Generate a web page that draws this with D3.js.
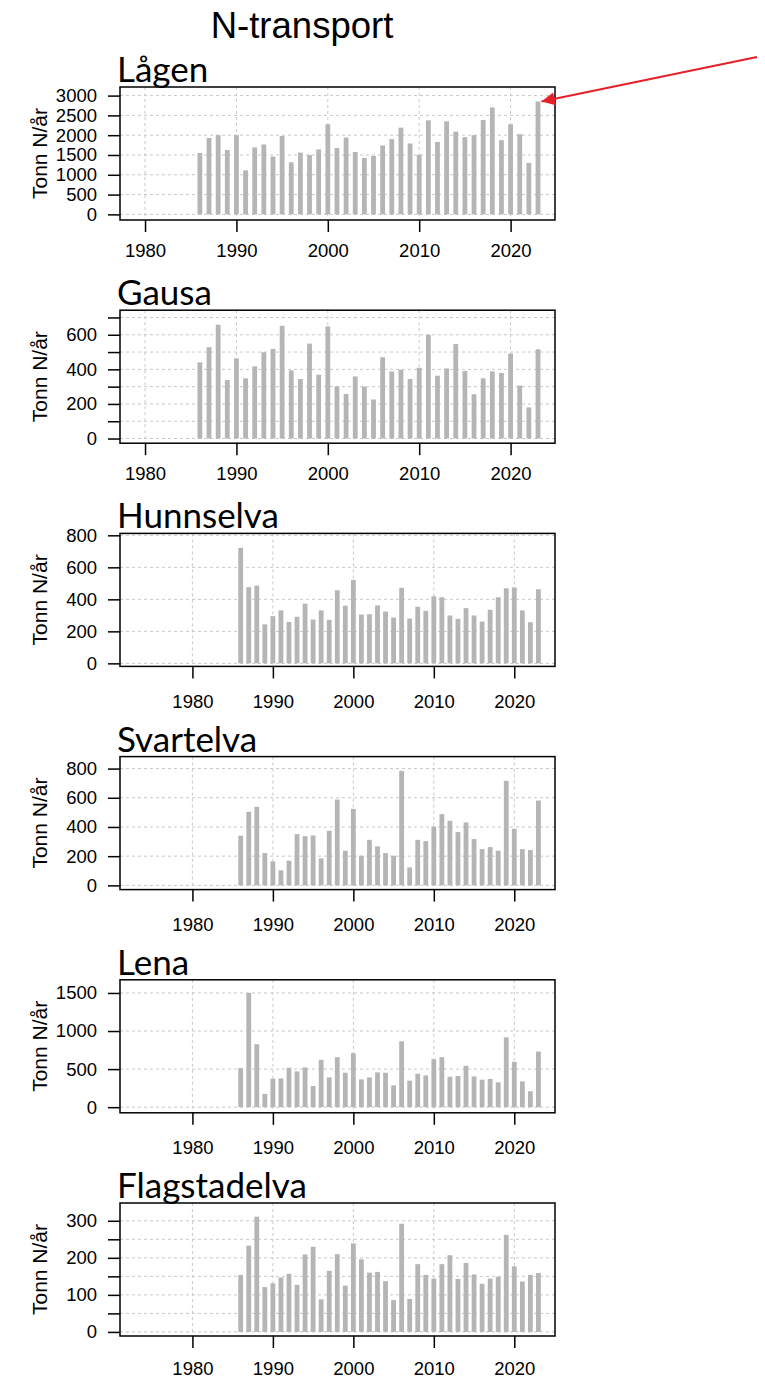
<!DOCTYPE html>
<html>
<head>
<meta charset="utf-8">
<script src="https://cdn.jsdelivr.net/npm/d3@7"></script>
<style>
  body { margin: 0; background: #fff; }
  svg { display: block; }
</style>
</head>
<body>
<div id="chart"></div>
<script>
// years shared by every river
const years = [1986, 1987, 1988, 1989, 1990, 1991, 1992, 1993, 1994, 1995,
  1996, 1997, 1998, 1999, 2000, 2001, 2002, 2003, 2004, 2005,
  2006, 2007, 2008, 2009, 2010, 2011, 2012, 2013, 2014, 2015,
  2016, 2017, 2018, 2019, 2020, 2021, 2022, 2023];

const xTicks = [1980, 1990, 2000, 2010, 2020];

// N-transport, tonn N/år
const lagen = [1550, 1930, 2000, 1625, 2000, 1110, 1690, 1765, 1460, 1980,
  1315, 1560, 1500, 1640, 2275, 1675, 1940, 1575, 1425, 1475,
  1740, 1900, 2190, 1790, 1500, 2375, 1830, 2350, 2090, 1950,
  2000, 2385, 2700, 1875, 2275, 2025, 1300, 2850];
const gausa = [440, 528, 658, 338, 463, 348, 417, 499, 518, 652,
  394, 344, 549, 369, 648, 302, 258, 359, 300, 226,
  470, 388, 398, 344, 409, 600, 363, 405, 547, 390,
  256, 348, 388, 379, 491, 306, 180, 516];
const hunnselva = [722, 476, 486, 244, 295, 331, 259, 291, 373, 274,
  331, 272, 457, 360, 522, 305, 307, 362, 324, 286,
  472, 280, 354, 328, 419, 413, 299, 278, 345, 299,
  261, 335, 413, 469, 474, 331, 257, 463];
const svartelva = [340, 504, 538, 221, 164, 103, 169, 351, 337, 342,
  185, 374, 588, 237, 524, 203, 312, 267, 221, 203,
  784, 123, 312, 303, 403, 488, 442, 365, 431, 317,
  248, 262, 237, 716, 387, 248, 242, 581];
const lena = [513, 1500, 826, 174, 374, 378, 517, 470, 522, 278,
  622, 391, 657, 452, 709, 365, 391, 457, 452, 287,
  865, 348, 439, 417, 630, 657, 400, 409, 543, 404,
  361, 370, 326, 917, 596, 339, 209, 730];
const flagstadelva = [154, 233, 311, 121, 131, 147, 157, 127, 209, 230,
  88, 165, 210, 125, 239, 196, 160, 162, 137, 86,
  292, 89, 183, 154, 144, 183, 207, 143, 186, 155,
  130, 144, 149, 262, 177, 136, 154, 159];

// y ticks and the labels R kept on each axis
const lagenTicks = [0, 500, 1000, 1500, 2000, 2500, 3000];
const lagenLabels = [0, 500, 1000, 1500, 2000, 2500, 3000];
const gausaTicks = [0, 100, 200, 300, 400, 500, 600, 700];
const gausaLabels = [0, 200, 400, 600];
const hunnTicks = [0, 200, 400, 600, 800];
const hunnLabels = [0, 200, 400, 600, 800];
const svartTicks = [0, 200, 400, 600, 800];
const svartLabels = [0, 200, 400, 600, 800];
const lenaTicks = [0, 500, 1000, 1500];
const lenaLabels = [0, 500, 1000, 1500];
const flagTicks = [0, 50, 100, 150, 200, 250, 300];
const flagLabels = [0, 100, 200, 300];

const panels = [
  { name: 'Lågen', values: lagen, ticks: lagenTicks, labels: lagenLabels, ydom: [-142, 3217], xdom: [1977.26, 2024.86], lab: 12 },
  { name: 'Gausa', values: gausa, ticks: gausaTicks, labels: gausaLabels, ydom: [-27, 742], xdom: [1977.26, 2024.86], lab: 12 },
  { name: 'Hunnselva', values: hunnselva, ticks: hunnTicks, labels: hunnLabels, ydom: [-19, 812], xdom: [1971, 2025.06], lab: 16 },
  { name: 'Svartelva', values: svartelva, ticks: svartTicks, labels: svartLabels, ydom: [-29, 882], xdom: [1971, 2025.06], lab: 16 },
  { name: 'Lena', values: lena, ticks: lenaTicks, labels: lenaLabels, ydom: [-74, 1673], xdom: [1971, 2025.06], lab: 16 },
  { name: 'Flagstadelva', values: flagstadelva, ticks: flagTicks, labels: flagLabels, ydom: [-11, 348], xdom: [1971, 2025.06], lab: 14 }
];

const W = 765, H = 1379;
const left = 120, right = 555;
const boxH = 133, step = 223.2, firstTop = 87;
const barColor = '#b5b5b5';
const gridColor = '#c8c8c8';
const sans = '"Liberation Sans", Arial, sans-serif';

const svg = d3.select('#chart').append('svg')
  .attr('width', W)
  .attr('height', H);

svg.append('defs').append('marker')
  .attr('id', 'arrowhead')
  .attr('viewBox', '0 0 10 10')
  .attr('refX', 10).attr('refY', 5)
  .attr('markerWidth', 7).attr('markerHeight', 6)
  .attr('markerUnits', 'strokeWidth')
  .attr('orient', 'auto')
  .append('path')
  .attr('d', 'M0,0 L10,5 L0,10 z')
  .attr('fill', '#e8202a');

svg.append('text')
  .attr('x', 302)
  .attr('y', 38)
  .attr('text-anchor', 'middle')
  .attr('font-family', sans)
  .attr('font-size', 36.5)
  .text('N-transport');

let firstScales = null;

panels.forEach((p, i) => {
  const top = firstTop + i * step;
  const g = svg.append('g').attr('transform', `translate(0, ${top})`);

  const x = d3.scaleLinear().domain(p.xdom).range([left, right]);
  const y = d3.scaleLinear().domain(p.ydom).range([boxH, 0]);
  if (i === 0) firstScales = { x, y, top };

  // dotted grid
  g.append('g').selectAll('line.hg')
    .data(p.ticks).enter().append('line')
    .attr('x1', left).attr('x2', right)
    .attr('y1', d => y(d)).attr('y2', d => y(d))
    .attr('stroke', gridColor).attr('stroke-dasharray', '3,3');
  g.append('g').selectAll('line.vg')
    .data(xTicks).enter().append('line')
    .attr('x1', d => x(d)).attr('x2', d => x(d))
    .attr('y1', 0).attr('y2', boxH)
    .attr('stroke', gridColor).attr('stroke-dasharray', '3,3');

  // bars
  g.append('g').selectAll('rect')
    .data(years.map((yr, k) => ({ yr, v: p.values[k] })))
    .enter().append('rect')
    .attr('x', d => x(d.yr) - 2.4)
    .attr('width', 4.8)
    .attr('y', d => y(d.v))
    .attr('height', d => y(0) - y(d.v))
    .attr('fill', barColor);

  // box
  g.append('rect')
    .attr('x', left).attr('y', 0)
    .attr('width', right - left).attr('height', boxH)
    .attr('fill', 'none').attr('stroke', '#000').attr('stroke-width', 1.5);

  const yAxis = g.append('g')
    .attr('transform', `translate(${left}, 0)`)
    .call(d3.axisLeft(y).tickValues(p.ticks).tickSize(12).tickPadding(11)
      .tickFormat(d => p.labels.includes(d) ? d : ''));

  const xAxis = g.append('g')
    .attr('transform', `translate(0, ${boxH})`)
    .call(d3.axisBottom(x).tickValues(xTicks).tickSize(12).tickPadding(p.lab)
      .tickFormat(d3.format('d')));

  [yAxis, xAxis].forEach(a => {
    a.select('.domain').remove();
    a.selectAll('line').attr('stroke', '#000').attr('stroke-width', 1.5);
    a.selectAll('text')
      .attr('font-family', sans)
      .attr('font-size', 18.5)
      .attr('fill', '#000');
  });

  // y label
  g.append('text')
    .attr('transform', `translate(47, ${boxH / 2}) rotate(-90)`)
    .attr('text-anchor', 'middle')
    .attr('font-family', sans)
    .attr('font-size', 21)
    .text('Tonn N/år');

  // river name
  g.append('text')
    .attr('x', 117)
    .attr('y', -5)
    .attr('font-family', 'Lato, "Open Sans", sans-serif')
    .attr('font-size', 35)
    .text(p.name);
});

// red arrow pointing at the 2023 value for Lågen
const ax = firstScales.x(2023) + 3.5;
const ay = firstScales.top + firstScales.y(lagen[lagen.length - 1]);
svg.append('line')
  .attr('x1', 757).attr('y1', 57)
  .attr('x2', ax).attr('y2', ay)
  .attr('stroke', '#e8202a')
  .attr('stroke-width', 2.2)
  .attr('marker-end', 'url(#arrowhead)');
</script>
</body>
</html>
